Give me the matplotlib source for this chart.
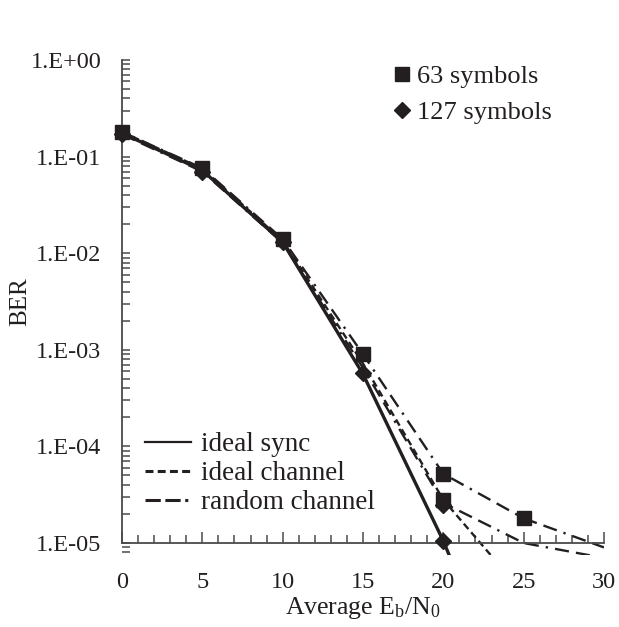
import matplotlib
matplotlib.use("Agg")
import matplotlib.pyplot as plt
from matplotlib.lines import Line2D
from matplotlib.ticker import LogLocator, NullFormatter, FixedLocator, MultipleLocator

plt.rcParams['font.family'] = ['Liberation Serif', 'DejaVu Serif']
plt.rcParams['mathtext.fontset'] = 'custom'
plt.rcParams['mathtext.rm'] = 'Liberation Serif'
plt.rcParams['mathtext.it'] = 'Liberation Serif'

# ---- data ----
snr = [0, 5, 10, 15, 20, 25, 30]
ideal_sync = [0.175, 0.072, 0.013, 0.00056, 1.05e-5, 1e-7]
ideal_channel = [0.18, 0.075, 0.0135, 0.00072, 2.8e-5, 3e-6]
random_ch_63 = [0.18, 0.076, 0.014, 0.0009, 5.2e-5, 1.8e-5, 9e-6]
random_ch_127 = [0.17, 0.07, 0.0128, 0.00065, 2.6e-5, 1.0e-5, 7e-6]

sq_x = [0, 5, 10, 15, 20, 20, 25]
sq_y = [0.18, 0.076, 0.014, 0.0009, 5.2e-5, 2.8e-5, 1.8e-5]
dm_x = [0, 5, 10, 15, 20, 20]
dm_y = [0.17, 0.07, 0.013, 0.00058, 2.5e-5, 1.05e-5]

yticks = [1e0, 1e-1, 1e-2, 1e-3, 1e-4, 1e-5]
ytick_labels = ['1.E+00', '1.E-01', '1.E-02', '1.E-03', '1.E-04', '1.E-05']
xticks = [0, 5, 10, 15, 20, 25, 30]

K = '#231f20'
AX = '#4a4a4a'
W, H = 619, 627

fig = plt.figure(figsize=(W/100, H/100), dpi=100)
ax = fig.add_axes([122/W, 72/H, (604-122)/W, (555-60)/H])
ax.set_yscale('log')
ax.set_xlim(0, 30)
ax.set_ylim(10**(-5 - 12/96.6), 1.0)

short_dash = (0, (3.0, 1.8))
long_dash_dot = (0, (6.0, 3.0, 6.0, 3.0, 1.0, 3.0))

ax.plot(snr[:len(ideal_sync)], ideal_sync, color=K, lw=2.4, solid_capstyle='butt')
ax.plot(snr[:len(ideal_channel)], ideal_channel, color=K, lw=1.7, linestyle=short_dash)
ax.plot(snr, random_ch_63, color=K, lw=1.7, linestyle=long_dash_dot)
ax.plot(snr, random_ch_127, color=K, lw=1.7, linestyle=long_dash_dot)

ax.plot(sq_x, sq_y, linestyle='none', marker='s', ms=10, color=K, clip_on=False, zorder=5)
ax.plot(dm_x, dm_y, linestyle='none', marker='D', ms=8, color=K, clip_on=False, zorder=5)

# spines
for s in ['top', 'right']:
    ax.spines[s].set_visible(False)
ax.spines['bottom'].set_position(('data', 1e-5))
ax.spines['left'].set_bounds(1e-5, 1.0)
for s in ['left', 'bottom']:
    ax.spines[s].set_color(AX)
    ax.spines[s].set_linewidth(1.3)

ax.yaxis.set_major_locator(FixedLocator(yticks))
ax.set_yticklabels(ytick_labels)
ax.yaxis.set_minor_locator(LogLocator(base=10, subs=range(2, 10), numticks=20))
ax.yaxis.set_minor_formatter(NullFormatter())
ax.xaxis.set_major_locator(FixedLocator(xticks))
ax.xaxis.set_minor_locator(MultipleLocator(1))

ax.tick_params(axis='y', which='both', direction='in', length=6, width=1.1, color=AX,
               labelsize=17.5, pad=15)
ax.tick_params(axis='x', which='major', direction='in', length=8, width=1.1, color=AX,
               labelsize=17.5, pad=21)
ax.tick_params(axis='x', which='minor', direction='in', length=6, width=1.1, color=AX)
for t in ax.get_yticklabels() + ax.get_xticklabels():
    t.set_color(K)

ax.set_xlabel(r'Average E$_\mathrm{b}$/N$_\mathrm{0}$', fontsize=18.5, color=K, labelpad=1)
ax.set_ylabel('BER', fontsize=18, color=K, va='center')
ax.yaxis.set_label_coords((20 - 122) / 482, (555 - 302) / 495)


def P(x, y):
    return (x / W, (H - y) / H)


# legends
mk_handles = [Line2D([], [], linestyle='none', marker='s', ms=10, color=K),
              Line2D([], [], linestyle='none', marker='D', ms=8, color=K)]
leg1 = ax.legend(mk_handles, ['63 symbols', '127 symbols'], loc='upper left',
                 bbox_to_anchor=P(391, 65), bbox_transform=fig.transFigure,
                 frameon=False, fontsize=19, borderpad=0, borderaxespad=0,
                 handlelength=0.8, handletextpad=0.2, labelspacing=0.45)
for t in leg1.get_texts():
    t.set_color(K)
ax.add_artist(leg1)

ln_handles = [Line2D([], [], color=K, lw=1.6),
              Line2D([], [], color=K, lw=2.2, linestyle=(0, (2.6, 1.4))),
              Line2D([], [], color=K, lw=2.2, linestyle=(0, (5.0, 1.5, 5.0, 1.5, 1.0, 1.5)))]
leg2 = ax.legend(ln_handles, ['ideal sync', 'ideal channel', 'random channel'],
                 loc='lower left', bbox_to_anchor=P(145, 515), bbox_transform=fig.transFigure,
                 frameon=False, fontsize=19.5, borderpad=0, borderaxespad=0,
                 handlelength=1.7, handletextpad=0.35, labelspacing=0.14)
for t in leg2.get_texts():
    t.set_color(K)

fig.savefig('out.png', dpi=100)
